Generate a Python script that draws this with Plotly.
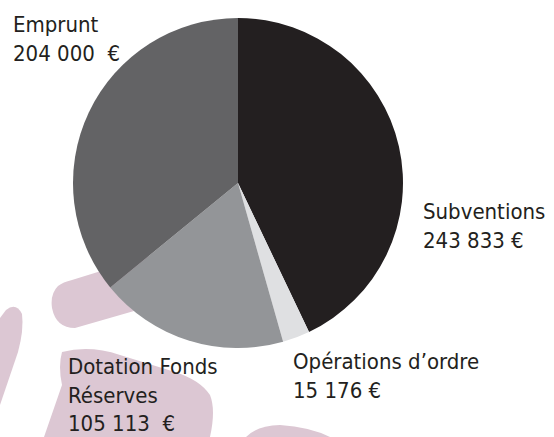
import plotly.graph_objects as go

# ---- data ----
labels = ["Subventions", "Opérations d’ordre", "Dotation Fonds<br>Réserves", "Emprunt"]
values = [243833, 15176, 105113, 204000]
euro_suffix = [" €", " €", "\u00a0\u00a0€", "\u00a0\u00a0€"]
colors = ["#231f20", "#dfe0e2", "#939598", "#636365"]

W, H = 554, 437

def fmt(v, suffix):
    return f"{v:,}".replace(",", "\u00a0") + suffix

fig = go.Figure()
fig.add_trace(go.Pie(
    labels=labels, values=values, sort=False, direction="clockwise", rotation=0,
    marker=dict(colors=colors, line=dict(width=0)),
    textinfo="none", hoverinfo="label+value", showlegend=False,
    domain=dict(x=[73 / W, 403 / W], y=[1 - 348 / H, 1 - 18 / H]),
))

# label placement (pixels from top-left): x, y-top
label_pos = [(421, 197), (291, 347), (66, 352), (11, 10)]
annotations = []
for (px, py), name, v, suf in zip(label_pos, labels, values, euro_suffix):
    annotations.append(dict(
        x=px / W, y=1 - py / H, xref="paper", yref="paper",
        xanchor="left", yanchor="top", align="left", showarrow=False,
        text=f"{name}<br>{fmt(v, suf)}",
        font=dict(family="DejaVu Sans Condensed, DejaVu Sans", size=22, color="#231f20"),
    ))

# decorative background brush strokes (watermark)
pink = "#dcc7d3"
def P(d):
    return dict(type="path", path=d, xref="x", yref="y", fillcolor=pink,
                line=dict(width=0), layer="below")

shapes = [
    # stroke under the pie (bottom-left)
    P("M 58,286 Q 50,294 52,308 Q 56,328 75,328 L 200,292 L 185,245 L 72,280 Q 63,282 58,286 Z"),
    # left edge strip
    P("M 0,318 L 6,310 Q 16,302 22,314 Q 24,330 18,352 L 0,405 Z"),
    # shape under Dotation label
    P("M 62,352 Q 58,366 62,385 L 44,437 L 210,437 Q 216,410 210,395 Q 200,380 175,372 L 120,355 Q 90,345 62,352 Z"),
    # bottom-centre bump
    P("M 246,437 Q 256,426 280,425 Q 310,427 330,437 Z"),
]

fig.update_layout(
    width=W, height=H, margin=dict(l=0, r=0, t=0, b=0),
    paper_bgcolor="white", plot_bgcolor="rgba(0,0,0,0)",
    xaxis=dict(range=[0, W], visible=False, fixedrange=True),
    yaxis=dict(range=[H, 0], visible=False, fixedrange=True),
    annotations=annotations, shapes=shapes,
)
fig.write_html("out.html", config={"displayModeBar": False},
               post_script="document.body.style.margin='0';document.body.style.overflow='hidden';")
